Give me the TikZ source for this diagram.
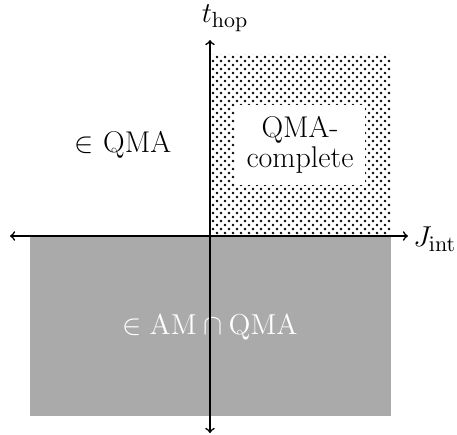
\documentclass[tikz,border=0pt,12pt]{standalone}
\usetikzlibrary{patterns}
\definecolor{regiongray}{RGB}{170,170,170}
\pgfdeclarepatternformonly{stagdots}{\pgfqpoint{0pt}{0pt}}{\pgfqpoint{4pt}{4pt}}{\pgfqpoint{4pt}{4pt}}{%
  \pgfpathcircle{\pgfqpoint{1pt}{1pt}}{0.7pt}%
  \pgfpathcircle{\pgfqpoint{3pt}{3pt}}{0.7pt}%
  \pgfusepath{fill}}
\begin{document}
\begin{tikzpicture}[x=0.5pt,y=-0.5pt,font=\fontsize{15}{18}\selectfont,
  axis/.style={thick,>=to},
  label/.style={inner sep=0pt}]
\useasboundingbox (0,0) rectangle (457,435);
\fill[regiongray] (30,236) rectangle (391,416);
\fill[pattern=stagdots] (210,54) rectangle (391,236);
\node[fill=white,minimum width=65pt,minimum height=40pt,inner sep=2pt,align=center] (qmac) at (300,145) {QMA-\\[-3pt]complete};
\node[label] (qma) at (123,145) {$\in$ QMA};
\node[label,text=white] (amqma) at (210,327) {$\in \mathrm{AM} \cap \mathrm{QMA}$};
\coordinate (xl) at (10,236);
\coordinate (xr) at (408,236);
\coordinate (yt) at (210,40);
\coordinate (yb) at (210,433);
\draw[axis,<->] (xl) -- (xr);
\draw[axis,<->] (yb) -- (yt);
\node[label,anchor=west] (jint) at (413,239) {$J_{\mathrm{int}}$};
\node[label] (thop) at (225,18) {$t_{\mathrm{hop}}$};
\end{tikzpicture}
\end{document}
